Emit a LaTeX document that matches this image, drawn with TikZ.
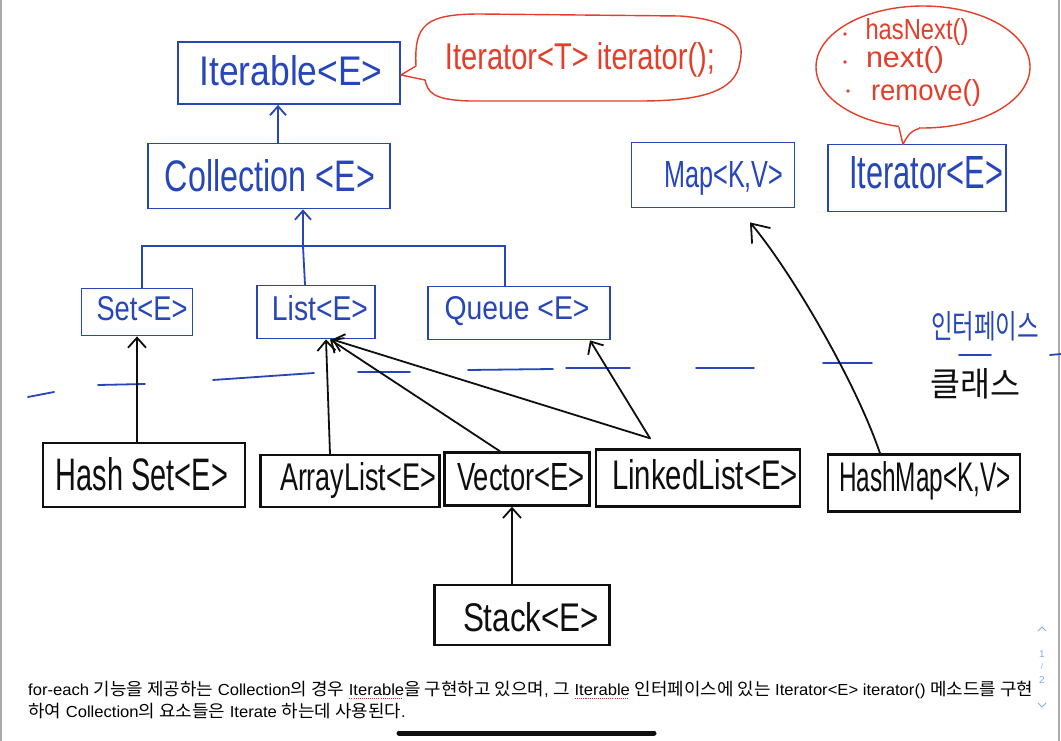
\documentclass[tikz,border=0pt]{standalone}
\usepackage{fontspec}
\setmainfont{Liberation Sans}
\newfontfamily\krfont[Scale=1.08]{Noto Sans CJK KR}
\usetikzlibrary{arrows.meta,shapes.geometric}
\definecolor{pen}{RGB}{38,70,185}
\definecolor{redpen}{RGB}{228,62,42}
\definecolor{ink}{RGB}{15,15,15}
\definecolor{pagegray}{RGB}{170,170,170}
\definecolor{navblue}{RGB}{130,175,232}
\definecolor{spellred}{RGB}{225,40,40}
\newsavebox\lineonebox
\newcommand\spellul[1]{\setbox0\hbox{#1}\leavevmode\rlap{\raisebox{-3.5pt}{\hbox to \wd0{\color{spellred}\leaders\hbox to 2pt{\hss\rule{1pt}{1pt}\hss}\hfill}}}#1}
\newcommand\fs[1]{\fontsize{#1}{#1}\selectfont}
\newcommand\fit[3]{\resizebox{#1pt}{#2pt}{#3}}
\newcommand\hg[1]{{\krfont #1}}
\tikzset{
  iface/.style={draw=pen, line width=1.8pt, inner sep=0pt},
  cls/.style={draw=ink, line width=2.4pt, inner sep=0pt},
  itxt/.style={text=pen, inner sep=0pt, font=\fs{30}},
  ctxt/.style={text=ink, inner sep=0pt, font=\fs{30}},
  itree/.style={draw=pen, line width=1.8pt, line cap=round},
  itreearrow/.style={itree, -{Straight Barb[length=9pt,width=16pt]}},
  inh/.style={draw=ink, line width=1.8pt, line cap=round, -{Straight Barb[length=10pt,width=18pt]}},
  redline/.style={draw=redpen, line width=1.4pt, line cap=round, line join=round},
  redtext/.style={text=redpen, inner sep=0pt, font=\fs{30}},
}
\begin{document}
\begin{tikzpicture}[x=1pt,y=-1pt]
\useasboundingbox (0,0) rectangle (1061,741);
\fill[white] (0,0) rectangle (1061,741);
\draw[pagegray, line width=1.5pt] (1,0) -- (1,741);
\draw[pagegray, line width=1.5pt] (1059,0) -- (1059,741);

% ---- interfaces
\node[iface, minimum width=222pt, minimum height=62pt] (iterable) at (289,73) {};
\node[itxt] (iterablet) at (291,71) {\fit{183}{30}{Iterable<E>}};
\node[iface, minimum width=242pt, minimum height=65pt] (collection) at (269,176) {};
\node[itxt] (collectiont) at (270,176) {\fit{210}{32}{Collection <E>}};
\node[iface, minimum width=111pt, minimum height=47pt] (set) at (137,312) {};
\node[itxt] (sett) at (142,309) {\fit{91}{24}{Set<E>}};
\node[iface, minimum width=118pt, minimum height=53pt] (list) at (316,312) {};
\node[itxt] (listt) at (320,308) {\fit{96}{25}{List<E>}};
\node[iface, minimum width=182pt, minimum height=53pt] (queue) at (519,313) {};
\node[itxt] (queuet) at (517,311) {\fit{145}{23}{Queue <E>}};
\node[iface, minimum width=163pt, minimum height=65pt] (map) at (713,175) {};
\node[itxt] (mapt) at (724,178) {\fit{119}{26}{Map<K,V>}};
\node[iface, minimum width=178pt, minimum height=67pt] (iterator) at (917,178) {};
\node[itxt] (iteratort) at (926,173) {\fit{154}{32}{Iterator<E>}};

% ---- classes
\node[cls, minimum width=202pt, minimum height=64pt] (hashset) at (144,475) {};
\node[ctxt] (hashsett) at (142,474) {\fit{172}{33}{Hash Set<E>}};
\node[cls, minimum width=179pt, minimum height=52pt] (arraylist) at (350,481) {};
\node[ctxt] (arraylistt) at (358,481) {\fit{156}{28}{ArrayList<E>}};
\node[cls, minimum width=145pt, minimum height=53pt] (vector) at (517,479) {};
\node[ctxt] (vectort) at (521,477) {\fit{128}{27}{Vector<E>}};
\node[cls, minimum width=204pt, minimum height=57pt] (linkedlist) at (698,478) {};
\node[ctxt] (linkedlistt) at (705,475) {\fit{186}{30}{LinkedList<E>}};
\node[cls, minimum width=192pt, minimum height=57pt] (hashmap) at (924,483) {};
\node[ctxt] (hashmapt) at (925,481) {\fit{172}{30}{HashMap<K,V>}};
\node[cls, minimum width=175pt, minimum height=60pt] (stack) at (522,615) {};
\node[ctxt] (stackt) at (531,617) {\fit{136}{29}{Stack<E>}};

% ---- callout on Iterable
\node[redtext] (cb1) at (580,60) {\fit{270}{27}{Iterator<T> iterator();}};
\draw[redline] (416,66) .. controls (414,25) and (425,14) .. (480,14) -- (680,16)
  .. controls (735,20) and (745,38) .. (740,62)
  .. controls (736,92) and (700,101) .. (640,101) -- (470,101)
  .. controls (432,100) and (428,92) .. (425,80) -- ([yshift=-2pt]iterable.east) -- cycle;

% ---- speech bubble on Iterator
\node[draw=redpen, line width=1.4pt, ellipse, minimum width=214pt, minimum height=122pt, inner sep=0pt] (cb2) at (923,67) {};
\fill[white] (899,119) rectangle (919,132);
\coordinate (tailtip) at (903,144.5);
\draw[redline] (899,127.5) -- (tailtip) .. controls (906,138) and (910,131) .. (919,128.5);
\fill[redpen] (845,34) circle (1.8pt) (845,62) circle (1.8pt) (848,91) circle (1.8pt);
\node[redtext] (m1) at (917,32) {\fit{103}{21}{hasNext()}};
\node[redtext] (m2) at (905,60) {\fit{78}{21}{next()}};
\node[redtext] (m3) at (926,93) {\fit{110}{21}{remove()}};

% ---- interface tree
\coordinate (jn) at (303,246);
\draw[itree] ([xshift=5pt]set.north) |- (jn) -| ([xshift=-14pt]queue.north);
\draw[itree] ([xshift=-11pt]list.north) -- (jn);
\draw[itreearrow] (jn) -- (jn |- collection.south);
\draw[itreearrow] ([xshift=9pt]collection.north) -- ([xshift=9pt]collection.north |- iterable.south);

% ---- separator
\foreach \a/\b/\c/\d in {28/397/54/392, 98/385/145/384, 213/380/314/373, 358/372/410/372,
  468/370/553/369, 566/368/630/368, 696/368/754/368, 823/363/872/363, 959/355/991/355, 1050/355/1061/354}
  \draw[itree] (\a,\b) -- (\c,\d);
\node[text=pen, inner sep=0pt] (lbli) at (985,326) {\fit{108}{27}{\krfont 인터페이스}};
\node[text=ink, inner sep=0pt] (lblc) at (975,384) {\fit{90}{28}{\krfont 클래스}};

% ---- implementation arrows
\draw[inh] (hashset.north -| set.south) -- (set.south);
\draw[inh] ([xshift=-20pt]arraylist.north) -- ([xshift=10pt]list.south);
\draw[inh] ([xshift=-17pt]vector.north) -- ([xshift=14pt]list.south);
\draw[inh] ([xshift=-48pt,yshift=10pt]linkedlist.north) -- ([xshift=16pt]list.south);
\draw[inh] ([xshift=-48pt,yshift=10pt]linkedlist.north) -- ([xshift=71pt]queue.south);
\draw[inh] ([xshift=-5pt]vector.south |- stack.north) -- ([xshift=-5pt]vector.south);
\draw[inh, -{Straight Barb[length=16pt,width=24pt]}] ([xshift=-44pt]hashmap.north) .. controls (855,380) and (790,270) .. ([xshift=37pt,yshift=-14pt]map.south);

% ---- bottom text
\node[anchor=base west, inner sep=0pt] (t1) at (28,695) {\sbox\lineonebox{\fs{16}for-each \hg{기능을 제공하는} Collection\hg{의 경우} \spellul{Iterable}\hg{을 구현하고 있으며}, \hg{그} \spellul{Iterable} \hg{인터페이스에 있는} Iterator<E> iterator() \hg{메소드를 구현}}\pgfmathsetmacro\sx{1005/\the\wd\lineonebox}\global\let\sxg\sx\scalebox{\sx}[1]{\usebox\lineonebox}};
\node[anchor=base west, inner sep=0pt] (t2) at (28,717) {\scalebox{\sxg}[1]{\fs{16}\hg{하여} Collection\hg{의 요소들은} Iterate \hg{하는데 사용된다}.}};

% ---- page indicator and home bar
\draw[navblue, line width=0.8pt] (1038,631) -- (1042,627) -- (1046,631);
\node[text=navblue, font=\fs{10}, inner sep=0pt] (p1) at (1042,654) {1};
\node[text=navblue, font=\fs{8}, inner sep=0pt] (ps) at (1042,667) {/};
\node[text=navblue, font=\fs{10}, inner sep=0pt] (p2) at (1042,680) {2};
\draw[navblue, line width=0.8pt] (1038,703) -- (1042,707) -- (1046,703);
\draw[ink, line width=5pt, line cap=round] (399,733) -- (654,733);
\end{tikzpicture}
\end{document}
